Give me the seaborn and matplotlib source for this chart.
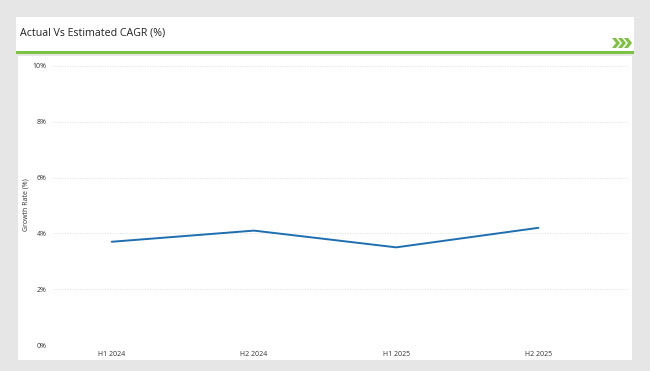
import numpy as np
import pandas as pd
import seaborn as sns
import matplotlib.pyplot as plt
from matplotlib.patches import Rectangle, Polygon

# data
periods = ['H1 2024', 'H2 2024', 'H1 2025', 'H2 2025']
growth = [3.7, 4.1, 3.5, 4.2]
yticks = [0, 2, 4, 6, 8, 10]

df = pd.DataFrame({'period': periods, 'growth': growth})

sns.set_theme(style='white')
plt.rcParams['font.family'] = ['Open Sans', 'DejaVu Sans']

fig = plt.figure(figsize=(6.5, 3.71), dpi=100)
fig.patch.set_facecolor('#e6e6e6')

# white title card and plot card
fig.patches.append(Rectangle((16/650, 1-52/371), 618/650, 35/371, transform=fig.transFigure,
                             facecolor='white', edgecolor='none', zorder=0))
fig.patches.append(Rectangle((18/650, 1-360/371), 614/650, 304/371, transform=fig.transFigure,
                             facecolor='white', edgecolor='none', zorder=0))
# green rule under the title
fig.patches.append(Rectangle((16/650, 1-53.5/371), 618/650, 2.2/371, transform=fig.transFigure,
                             facecolor='#7dc243', edgecolor='none', zorder=1))
# three chevrons at the right
for i in range(3):
    x0 = 612 + i*6
    pts = [(x0, 38), (x0+4, 38), (x0+8, 43), (x0+4, 48), (x0, 48), (x0+4, 43)]
    pts = [(px/650, 1-py/371) for px, py in pts]
    fig.patches.append(Polygon(pts, closed=True, transform=fig.transFigure,
                               facecolor='#7dc243', edgecolor='none', zorder=2))

fig.text(20/650, 1-33/371, 'Actual Vs Estimated CAGR (%)', fontsize=7.7, color='#222222',
         va='center', ha='left')

ax = fig.add_axes([52/650, 1-345/371, 576/650, 279/371])
ax.set_zorder(5)
ax.set_facecolor('none')
sns.lineplot(data=df, x='period', y='growth', ax=ax, color='#1f6eb0', linewidth=1.4, sort=False)

ax.set_ylim(0, 10)
ax.set_xlim(-0.42, 3.63)
ax.set_yticks(yticks)
ax.set_yticklabels([f'{t}%' for t in yticks])
ax.tick_params(axis='both', labelsize=5, colors='#333333', length=0, pad=4)
ax.tick_params(axis='x', pad=4)
ax.yaxis.grid(True, linestyle=(0, (1, 2)), color='#d6d6d6', linewidth=0.6)
ax.xaxis.grid(False)
for s in ax.spines.values():
    s.set_visible(False)
ax.set_xlabel('')
ax.set_ylabel('')
fig.text(26/650, 1-205/371, 'Growth Rate (%)', rotation=90, fontsize=5, color='#333333',
         va='center', ha='center')

fig.savefig('out.png', dpi=100, facecolor=fig.get_facecolor())
